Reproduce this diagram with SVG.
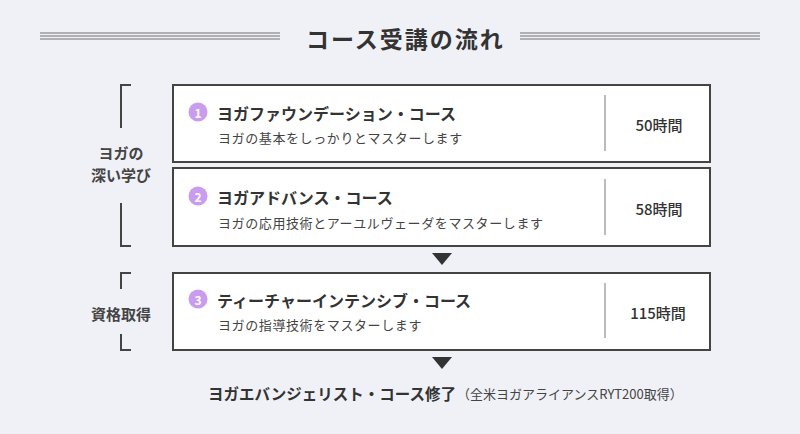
<svg xmlns="http://www.w3.org/2000/svg" width="800" height="434" viewBox="0 0 800 434">
<defs>
<style>
text{font-family:"Noto Sans CJK JP","Noto Sans",sans-serif;fill:#333;dominant-baseline:central}
.box{fill:#fff;stroke:#444;stroke-width:2}
.div{stroke:#bbb;stroke-width:2}
.num{fill:#c99cf0}
.numt{fill:#fff;font-size:12px;font-weight:700;text-anchor:middle}
.ttl{font-size:16px;font-weight:700}
.sub{font-size:13px;letter-spacing:0.6px;fill:#444}
.hrs{font-size:15px;font-weight:500;text-anchor:middle}
.side{font-size:15px;font-weight:700;text-anchor:middle;fill:#444}
.brk{fill:none;stroke:#444;stroke-width:2}
.rule{stroke:#b0b0b4;stroke-width:2}
.arr{fill:#333}
</style>
</defs>
<rect width="800" height="434" fill="#f0f1f6"/>
<g id="title">
<line class="rule" x1="40" y1="33" x2="280" y2="33"/>
<line class="rule" x1="40" y1="36" x2="280" y2="36"/>
<line class="rule" x1="40" y1="39" x2="280" y2="39"/>
<line class="rule" x1="520" y1="33" x2="760" y2="33"/>
<line class="rule" x1="520" y1="36" x2="760" y2="36"/>
<line class="rule" x1="520" y1="39" x2="760" y2="39"/>
<text x="306" y="38" style="font-size:23px;font-weight:700;letter-spacing:2px">コース受講の流れ</text>
</g>
<g id="group-deep">
<path class="brk" d="M131,85 H121 V128"/>
<path class="brk" d="M121,203 V246 H131"/>
<text class="side" x="121" y="152">ヨガの</text>
<text class="side" x="121" y="174">深い学び</text>
</g>
<g id="group-cert">
<path class="brk" d="M131,273 H121 V289"/>
<path class="brk" d="M121,334 V350 H131"/>
<text class="side" x="121" y="313">資格取得</text>
</g>
<g id="course1">
<rect class="box" x="173" y="85" width="537" height="77"/>
<circle class="num" cx="198" cy="112" r="9.5"/>
<text class="numt" x="198" y="112">1</text>
<text class="ttl" x="217" y="113">ヨガファウンデーション・コース</text>
<text class="sub" x="218" y="137">ヨガの基本をしっかりとマスターします</text>
<line class="div" x1="605" y1="95" x2="605" y2="151"/>
<text class="hrs" x="659" y="124">50時間</text>
</g>
<g id="course2">
<rect class="box" x="173" y="168" width="537" height="78"/>
<circle class="num" cx="198" cy="196" r="9.5"/>
<text class="numt" x="198" y="196">2</text>
<text class="ttl" x="217" y="197">ヨガアドバンス・コース</text>
<text class="sub" x="218" y="222">ヨガの応用技術とアーユルヴェーダをマスターします</text>
<line class="div" x1="605" y1="179" x2="605" y2="235"/>
<text class="hrs" x="659" y="208">58時間</text>
</g>
<g id="course3">
<rect class="box" x="173" y="273" width="537" height="77"/>
<circle class="num" cx="198" cy="299" r="9.5"/>
<text class="numt" x="198" y="299">3</text>
<text class="ttl" x="217" y="300">ティーチャーインテンシブ・コース</text>
<text class="sub" x="218" y="324">ヨガの指導技術をマスターします</text>
<line class="div" x1="605" y1="283" x2="605" y2="338"/>
<text class="hrs" x="658" y="312">115時間</text>
</g>
<g id="connectors">
<polygon class="arr" points="432,253 452,253 442,265"/>
<polygon class="arr" points="432,357 452,357 442,369"/>
</g>
<g id="result">
<text x="208" y="393"><tspan style="font-size:15.5px;font-weight:700">ヨガエバンジェリスト・コース修了</tspan><tspan style="font-size:13px;fill:#444" dx="1">（全米ヨガアライアンスRYT200取得）</tspan></text>
</g>
</svg>
